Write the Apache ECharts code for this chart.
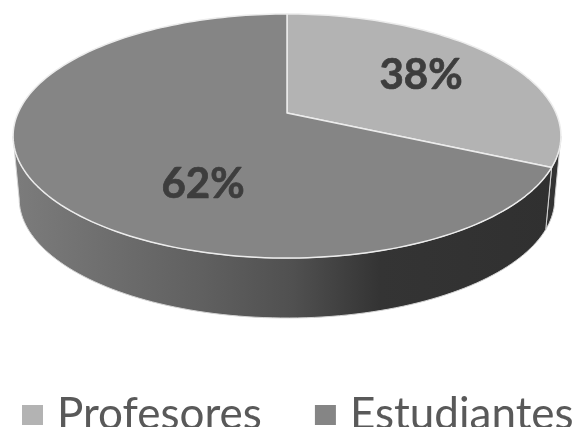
<!DOCTYPE html>
<html>
<head>
<meta charset="utf-8">
<style>html,body{margin:0;padding:0;background:#fff}#c{width:576px;height:427px}</style>
<script src="https://cdn.jsdelivr.net/npm/echarts@6/dist/echarts.min.js"></script>
</head>
<body>
<div id="c"></div>
<script>
// Series names and the printed labels
const categories = ['Profesores', 'Estudiantes'];
const printedPercent = [38, 62];
// Share of the round top that each slice actually occupies in the picture
const drawnShare = [32, 68];

const sliceColors = ['#b3b3b3', '#858585'];

// Perspective view of the disc
const CX = 287, P = 0.1885;
const TOP = { f: 269, g: 117.7, y0: 113 };
const BOT = { f: 263, g: 115, y0: 176.3 };
const VIS = [101, 259]; // part of the rim that faces the viewer, degrees clockwise from top

function project(deg, d) {
  const t = deg * Math.PI / 180, u = Math.sin(t), v = -Math.cos(t), w = 1 - P * v;
  return [CX + d.f * u / w, d.y0 + d.g * v / w];
}
function arc(a, b, d) {
  const pts = [], n = Math.max(2, Math.ceil(Math.abs(b - a) / 1.5));
  for (let i = 0; i <= n; i++) pts.push(project(a + (b - a) * i / n, d));
  return pts;
}

const labelPos = [[421, 75], [203, 184]];
const wallFill = [
  '#333333',
  { type: 'linear', x: 0, y: 0, x2: 1, y2: 0, global: false,
    colorStops: [
      { offset: 0, color: '#7c7c7c' },
      { offset: 0.35, color: '#606060' },
      { offset: 0.52, color: '#505050' },
      { offset: 0.68, color: '#343434' },
      { offset: 1, color: '#303030' }
    ] }
];

function renderSlice(i) {
  return function (params, api) {
    const start = api.value(0) * 3.6, end = start + api.value(1) * 3.6;
    const children = [];
    const a = Math.max(start, VIS[0]), b = Math.min(end, VIS[1]);
    if (b > a) {
      children.push({
        type: 'polygon',
        shape: { points: arc(a, b, TOP).concat(arc(b, a, BOT)) },
        style: { fill: wallFill[i], stroke: '#d4d4d4', lineWidth: 1 }
      });
    }
    children.push({
      type: 'polygon',
      shape: { points: [[CX, TOP.y0]].concat(arc(start, end, TOP)) },
      style: { fill: sliceColors[i], stroke: '#ececec', lineWidth: 1.5, lineJoin: 'round' }
    });
    children.push({
      type: 'text',
      style: {
        x: labelPos[i][0], y: labelPos[i][1],
        text: printedPercent[i] + '%',
        fill: '#3d3d3d',
        stroke: '#3d3d3d',
        lineWidth: 0.7,
        font: 'bold 42px Lato, "Open Sans", sans-serif',
        align: 'center', verticalAlign: 'middle'
      }
    });
    return { type: 'group', children };
  };
}

let cum = 0;
const series = categories.map((name, i) => {
  const s = {
    type: 'custom',
    name,
    coordinateSystem: 'none',
    silent: true,
    animation: false,
    itemStyle: { color: sliceColors[i] },
    data: [[cum, drawnShare[i]]],
    renderItem: renderSlice(i)
  };
  cum += drawnShare[i];
  return s;
});

const chart = echarts.init(document.getElementById('c'), null, { renderer: 'canvas' });
chart.setOption({
  backgroundColor: '#ffffff',
  animation: false,
  legend: {
    data: categories.map(name => ({ name, icon: 'rect' })),
    left: 22, top: 393,
    padding: 0,
    itemWidth: 21, itemHeight: 20, itemGap: 53,
    selectedMode: false,
    textStyle: { color: '#595959', fontSize: 44, fontFamily: 'Lato, "Open Sans", sans-serif', padding: [0, 0, 7, 9] }
  },
  series
});
</script>
</body>
</html>
